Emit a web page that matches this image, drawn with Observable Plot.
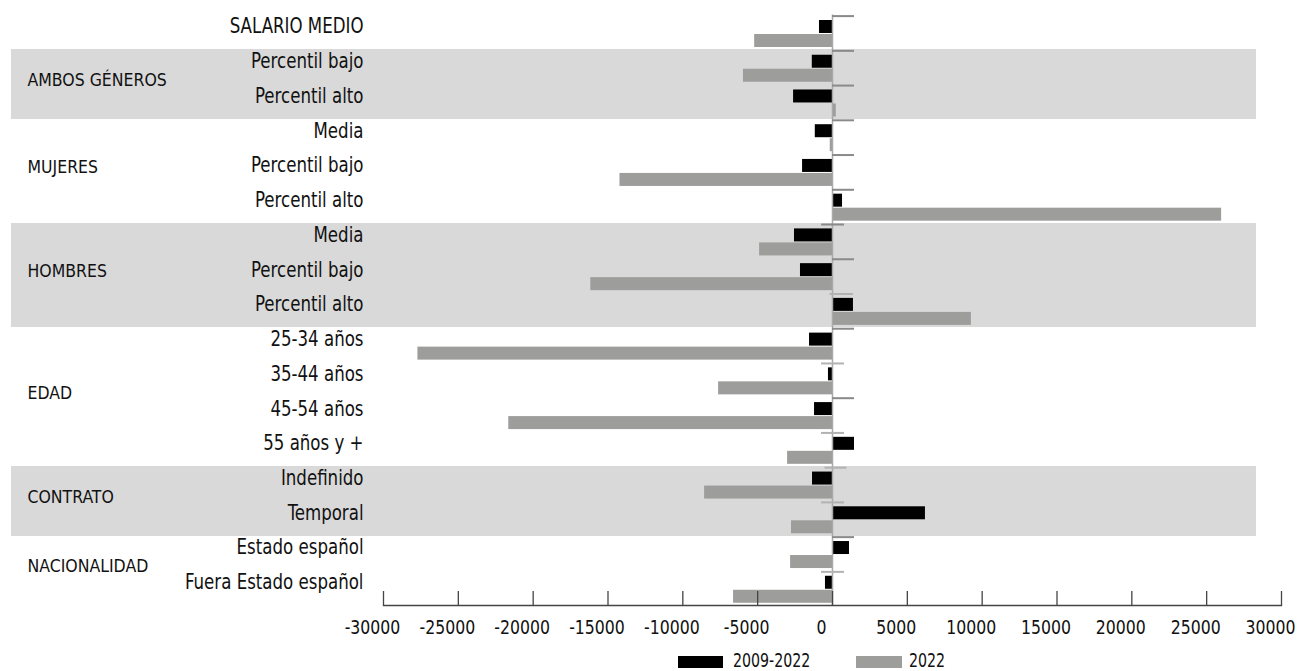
<!DOCTYPE html>
<html>
<head>
<meta charset="utf-8">
<script src="https://cdn.jsdelivr.net/npm/d3@7"></script>
<script src="https://cdn.jsdelivr.net/npm/@observablehq/plot@0.6"></script>
<style>
  html, body { margin: 0; padding: 0; background: #ffffff; overflow: hidden; }
  body { font-family: "Liberation Sans Narrow", "Arial Narrow", "DejaVu Sans Condensed", sans-serif; }
  #wrap { position: relative; width: 1299px; height: 671px; }
  #chart svg { display: block; }
  #legend { position: absolute; left: 0; top: 645px; }
</style>
</head>
<body>
<div id="wrap">
  <div id="chart"></div>
  <div id="legend"></div>
</div>
<script>
// ---- data ----
const categorias = ["SALARIO MEDIO","Percentil bajo","Percentil alto","Media","Percentil bajo","Percentil alto","Media","Percentil bajo","Percentil alto","25-34 años","35-44 años","45-54 años","55 años y +","Indefinido","Temporal","Estado español","Fuera Estado español"];
const grupos = ["","AMBOS GÉNEROS","AMBOS GÉNEROS","MUJERES","MUJERES","MUJERES","HOMBRES","HOMBRES","HOMBRES","EDAD","EDAD","EDAD","EDAD","CONTRATO","CONTRATO","NACIONALIDAD","NACIONALIDAD"];
const gruposSombreados = ["AMBOS GÉNEROS","HOMBRES","CONTRATO"];
const var2009_2022 = [-870,-1350,-2600,-1150,-2000,670,-2540,-2140,1400,-1535,-270,-1200,1470,-1335,6210,1135,-470];
const val2022 = [-5200,-5950,250,-150,-14200,26000,-4870,-16150,9280,-27700,-7610,-21630,-3000,-8545,-2740,-2800,-6610];
const marcaDesde = [0,0,0,0,0,0,-730,0,-170,0,-730,0,-730,-500,-730,0,-730];
const marcaHasta = [1470,1470,1470,1470,1470,1470,800,1470,1400,1470,800,1470,800,970,800,1470,800];
const marcaClara = [0,0,0,0,0,0,0,0,1,0,1,0,1,1,1,0,1];
const ticksX = [-30000,-25000,-20000,-15000,-10000,-5000,0,5000,10000,15000,20000,25000,30000];
const dominioX = [-30000, 30000];
const series = ["2009-2022", "2022"];
const coloresSerie = ["#000000", "#9d9d9b"];

// ---- table ----
const filas = categorias.map((c, i) => ({
  key: String(i), cat: c, grupo: grupos[i],
  a: var2009_2022[i], b: val2022[i],
  m1: marcaDesde[i], m2: marcaHasta[i], claro: marcaClara[i]
}));

const H = 648, MT = 14.5, MB = 43;
const bw = (H - MT - MB) / categorias.length;
const font = '"Liberation Sans Narrow", "Arial Narrow", "DejaVu Sans Condensed", sans-serif';

// group label marks
const nombresGrupo = [...new Set(grupos)].filter(g => g !== "");
const marcasGrupo = nombresGrupo.map(g => {
  const idx = grupos.map((x, i) => x === g ? i : -1).filter(i => i >= 0);
  const n = idx.length;
  return Plot.text([g], {
    y: () => String(idx[0]), text: d => d,
    frameAnchor: "left", textAnchor: "start", dx: -356,
    dy: (n - 1) / 2 * bw - 4.5, fontSize: 18.5, fill: "#111"
  });
});

const chart = Plot.plot({
  width: 1299, height: H,
  marginLeft: 383, marginRight: 18, marginTop: MT, marginBottom: MB,
  style: { fontFamily: font, background: "white", color: "#111" },
  x: { domain: dominioX, label: null },
  y: { type: "band", domain: filas.map(d => d.key), paddingInner: 0, paddingOuter: 0, round: false, axis: null, label: null },
  marks: [
    Plot.barX(filas.filter(d => gruposSombreados.includes(d.grupo)), {
      y: "key", x1: () => dominioX[0], x2: () => dominioX[1],
      fill: "#d9d9d9", insetLeft: -372, insetRight: 25, shapeRendering: "crispEdges"
    }),
    Plot.barX(filas, { y: "key", x: "a", fill: coloresSerie[0], insetTop: 5.5, insetBottom: bw - 18.5 }),
    Plot.barX(filas, { y: "key", x: "b", fill: coloresSerie[1], insetTop: 19.5, insetBottom: bw - 32.5 }),
    Plot.ruleX([0], { stroke: "#a9a9a9", strokeWidth: 1.5 }),
    Plot.barX(filas, {
      y: "key", x1: "m1", x2: "m2",
      fill: d => d.claro ? "#b2b2b2" : "#8a8a8a",
      insetTop: 0.6, insetBottom: bw - 2.6
    }),
    Plot.text(filas, {
      y: "key", text: "cat", frameAnchor: "left", textAnchor: "end",
      dx: -20, dy: -6, fontSize: 22, fill: "#111"
    }),
    ...marcasGrupo,
    Plot.frame({ anchor: "bottom", stroke: "#444", strokeWidth: 1.3 }),
    Plot.axisX({ ticks: ticksX, tickSize: -14, tickFormat: () => "", stroke: "#444", strokeWidth: 1.3 }),
    Plot.axisX({ ticks: ticksX, tickSize: 0, tickPadding: 15, dx: -11, fontSize: 19, fill: "#111", tickFormat: d => String(d) })
  ]
});
document.getElementById("chart").appendChild(chart);

// legend below the chart
const leg = d3.select("#legend").append("svg")
  .attr("width", 1299).attr("height", 26)
  .style("font-family", font).style("display", "block");
const posLeg = [{sx: 678, sw: 45, tx: 733}, {sx: 856, sw: 46, tx: 909}];
series.forEach((s, i) => {
  leg.append("rect").attr("x", posLeg[i].sx).attr("y", 11).attr("width", posLeg[i].sw).attr("height", 12)
    .attr("fill", coloresSerie[i]);
  leg.append("text").attr("x", posLeg[i].tx).attr("y", 21.5).attr("font-size", 19)
    .attr("fill", "#111").text(s);
});

// condense text to imitate the narrow typeface of the original
function condensar(root, factores) {
  root.querySelectorAll("text").forEach(el => {
    const host = el.closest("[font-size]");
    const f = host ? factores[host.getAttribute("font-size")] : undefined;
    if (!f || !el.textContent) return;
    const w = el.getComputedTextLength();
    el.setAttribute("textLength", (w * f).toFixed(1));
    el.setAttribute("lengthAdjust", "spacingAndGlyphs");
  });
}
condensar(chart, { "22": 0.84, "18.5": 0.945, "19": 0.92 });
condensar(leg.node(), { "19": 0.83 });
</script>
</body>
</html>
